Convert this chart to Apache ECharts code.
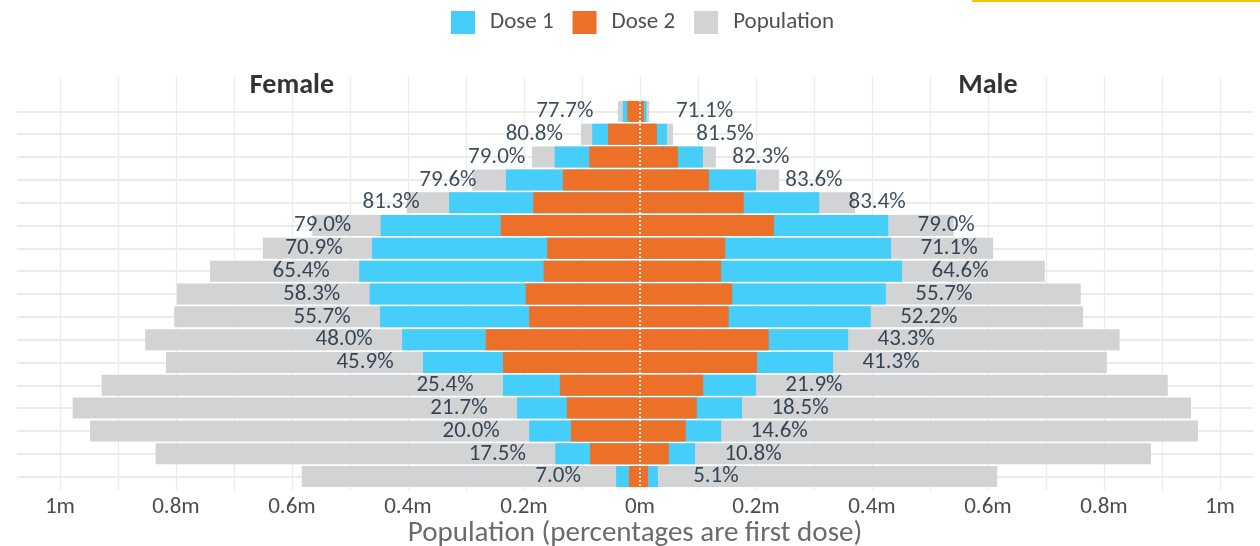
<!DOCTYPE html>
<html>
<head>
<meta charset="utf-8">
<title>Vaccination by age and sex</title>
<script src="https://cdn.jsdelivr.net/npm/echarts@6/dist/echarts.min.js"></script>
<style>
    html, body { margin: 0; padding: 0; background: #ffffff; }
    #chart { width: 1260px; height: 546px; }
</style>
</head>
<body>
<div id="chart"></div>
<script>
// 年龄组（从上到下）
var ageGroups = ['90+', '85-89', '80-84', '75-79', '70-74', '65-69', '60-64', '55-59', '50-54',
    '45-49', '40-44', '35-39', '30-34', '25-29', '20-24', '15-19', '10-14'];

// 女性（图左侧）
var femalePopulation = [37900, 101700, 186000, 289000, 402000, 565000, 650000, 741000, 798000,
    803000, 853000, 817000, 928000, 978000, 948000, 835000, 583000];
var femaleDose1 = [29500, 82200, 147000, 231000, 329000, 447000, 462000, 484000, 466000,
    448000, 410000, 374000, 236000, 212000, 191000, 146000, 41000];
var femaleDose2 = [21900, 55200, 87400, 133000, 184000, 240000, 160000, 166000, 197000,
    191000, 266000, 236000, 138000, 126000, 119000, 86000, 19000];
var femalePct = [77.7, 80.8, 79.0, 79.6, 81.3, 79.0, 70.9, 65.4, 58.3,
    55.7, 48.0, 45.9, 25.4, 21.7, 20.0, 17.5, 7.0];

// 男性（图右侧）
var malePopulation = [16000, 57000, 131000, 240000, 371000, 541000, 609000, 698000, 760000,
    764000, 827000, 805000, 910000, 950000, 962000, 881000, 616000];
var maleDose1 = [11400, 46600, 108600, 200000, 309000, 428000, 433000, 452000, 424000,
    398000, 359000, 333000, 200000, 176000, 140000, 95000, 31000];
var maleDose2 = [6900, 29300, 65500, 119000, 179000, 231000, 147000, 140000, 159000,
    153000, 222000, 202000, 109000, 98000, 79000, 50000, 13800];
var malePct = [71.1, 81.5, 82.3, 83.6, 83.4, 79.0, 71.1, 64.6, 55.7,
    52.2, 43.3, 41.3, 21.9, 18.5, 14.6, 10.8, 5.1];

// 坐标轴刻度与网格线
var xTickValues = [-1000000, -800000, -600000, -400000, -200000, 0, 200000, 400000, 600000, 800000, 1000000];
var gridLineValues = [-1000000, -900000, -800000, -700000, -600000, -500000, -400000, -300000, -200000, -100000,
    0, 100000, 200000, 300000, 400000, 500000, 600000, 700000, 800000, 900000, 1000000];

// 百分比标签放在第一剂柱末端再往外 0.1m 处
var labelOffset = 100000;

var sexNames = ['Female', 'Male'];
var sexNameX = [-600000, 600000];

var xMin = -1074000;
var xMax = 1057000;

var FONT = 'Carlito, Lato, "Open Sans", sans-serif';
var COLOR_DOSE1 = '#44cef9';
var COLOR_DOSE2 = '#ed7029';
var COLOR_POP = '#d2d3d5';
var COLOR_GRID = '#ebebeb';

var chartTool = chartTool || new function () {
};

/**
 * 女性数值取负数，画在零点左边
 */
chartTool.neg = function (arr) {
    return arr.map(function (v) {
        return -v;
    });
};

/**
 * 生成一组柱子（女/男共用同一个名字，这样图例只出现一次）
 */
chartTool.bar = function (name, values, color) {
    return {
        name: name,
        type: 'bar',
        xAxisIndex: 1,
        yAxisIndex: 1,
        data: values,
        barGap: '-100%',
        barWidth: '92%',
        itemStyle: { color: color },
        z: 2,
        silent: true
    };
};

/**
 * 只用来画 markLine 的空系列（网格线、零点虚线）
 * markLine 自己的 z 默认是 5，会盖住柱子，所以要单独指定
 */
chartTool.lines = function (axisIndex, z, lineStyle, data) {
    return {
        type: 'line',
        xAxisIndex: axisIndex,
        yAxisIndex: axisIndex,
        data: [],
        z: z,
        silent: true,
        markLine: {
            z: z,
            silent: true,
            animation: false,
            symbol: ['none', 'none'],
            label: { show: false },
            lineStyle: lineStyle,
            data: data
        }
    };
};

/**
 * 百分比标签，用透明散点承载
 */
chartTool.pctLabels = function (dose1, pct, sign) {
    return {
        type: 'scatter',
        xAxisIndex: 1,
        yAxisIndex: 1,
        symbolSize: 1,
        itemStyle: { color: 'rgba(0,0,0,0)' },
        z: 4,
        silent: true,
        data: dose1.map(function (v, i) {
            return [sign * (v + labelOffset), ageGroups[i]];
        }),
        label: {
            show: true,
            position: 'inside',
            fontFamily: FONT,
            fontSize: 23,
            color: '#0c2035',
            formatter: function (p) {
                return pct[p.dataIndex].toFixed(1) + '%';
            }
        }
    };
};

var chart = echarts.init(document.getElementById('chart'));

var option = {
    animation: false,
    textStyle: { fontFamily: FONT },
    legend: {
        data: ['Dose 1', 'Dose 2', 'Population'],
        left: 446,
        top: 6,
        icon: 'rect',
        itemWidth: 24,
        itemHeight: 23,
        itemGap: 19,
        selectedMode: false,
        textStyle: { fontFamily: FONT, fontSize: 23, color: '#505050', padding: [0, 0, 0, 10] }
    },
    graphic: [
        { type: 'rect', shape: { x: 972, y: 0, width: 288, height: 2 }, style: { fill: '#f5c400' } }
    ],
    grid: [
        // 面板（网格线范围）；v6 默认会为了容纳文字而收缩 grid，这里关掉
        { left: 17, right: 7, top: 77, bottom: 56, outerBoundsMode: 'none' },
        // 柱子
        { left: 17, right: 7, top: 100, bottom: 58, outerBoundsMode: 'none' }
    ],
    xAxis: [
        {
            gridIndex: 0,
            type: 'value',
            min: xMin,
            max: xMax,
            axisLine: { show: false },
            axisTick: { show: false },
            splitLine: { show: false },
            axisLabel: {
                customValues: xTickValues,
                fontFamily: FONT,
                fontSize: 23,
                color: '#4d4d4d',
                margin: 6,
                formatter: function (v) {
                    return (Math.abs(v) / 1000000) + 'm';
                }
            },
            name: 'Population (percentages are first dose)',
            nameLocation: 'middle',
            nameGap: 29,
            nameMoveOverlap: false,
            nameTextStyle: { fontFamily: FONT, fontSize: 29, color: '#6b6b6b' }
        },
        { gridIndex: 1, type: 'value', min: xMin, max: xMax, show: false }
    ],
    yAxis: [
        { gridIndex: 0, type: 'value', min: 0, max: 1, show: false },
        { gridIndex: 1, type: 'category', data: ageGroups, inverse: true, show: false }
    ],
    series: [
        // 竖向网格线
        chartTool.lines(0, 0, { color: COLOR_GRID, width: 1.3, type: 'solid' },
            gridLineValues.map(function (v) {
                return { xAxis: v };
            })),
        // 横向网格线（每个年龄组中心）
        chartTool.lines(1, 0, { color: COLOR_GRID, width: 2, type: 'solid' },
            ageGroups.map(function (c) {
                return { yAxis: c };
            })),
        chartTool.bar('Population', chartTool.neg(femalePopulation), COLOR_POP),
        chartTool.bar('Population', malePopulation, COLOR_POP),
        chartTool.bar('Dose 1', chartTool.neg(femaleDose1), COLOR_DOSE1),
        chartTool.bar('Dose 1', maleDose1, COLOR_DOSE1),
        chartTool.bar('Dose 2', chartTool.neg(femaleDose2), COLOR_DOSE2),
        chartTool.bar('Dose 2', maleDose2, COLOR_DOSE2),
        // 零点白色虚线
        chartTool.lines(1, 3, { color: '#ffffff', width: 1.5, type: [2, 2] }, [{ xAxis: 0 }]),
        chartTool.pctLabels(femaleDose1, femalePct, -1),
        chartTool.pctLabels(maleDose1, malePct, 1),
        // Female / Male 标题
        {
            type: 'scatter',
            xAxisIndex: 0,
            yAxisIndex: 0,
            symbolSize: 1,
            itemStyle: { color: 'rgba(0,0,0,0)' },
            z: 4,
            silent: true,
            data: sexNames.map(function (n, i) {
                return [sexNameX[i], 0.977];
            }),
            label: {
                show: true,
                position: 'inside',
                fontFamily: FONT,
                fontSize: 28,
                fontWeight: 'bold',
                color: '#000000',
                formatter: function (p) {
                    return sexNames[p.dataIndex];
                }
            }
        }
    ]
};

chart.setOption(option);
</script>
</body>
</html>
